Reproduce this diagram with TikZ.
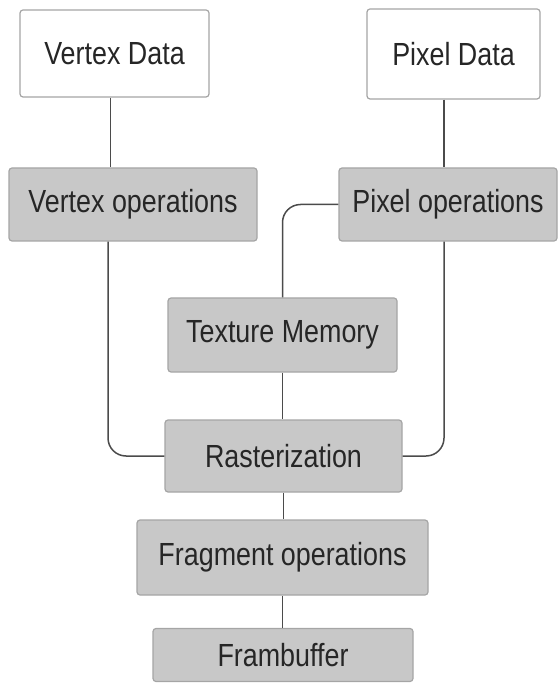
\documentclass[tikz,border=0pt]{standalone}
\usepackage{fontspec}
\setmainfont[FakeStretch=0.84]{Liberation Sans}

\definecolor{boxgray}{RGB}{200,200,200}
\definecolor{rimgray}{RGB}{165,165,165}
\definecolor{linegray}{RGB}{75,75,75}

\begin{document}
\begin{tikzpicture}[x=0.5pt,y=-0.5pt,
    every node/.style={rectangle,rounded corners=1.5pt,draw=rimgray,line width=0.6pt,
      inner sep=0pt,font=\fontsize{16}{19}\selectfont,text=black!85},
    databox/.style={fill=white},
    opbox/.style={fill=boxgray}]

      \useasboundingbox (0,0) rectangle (558,683);

      % Nodes
      \node[databox,minimum width=94.5pt,minimum height=43.5pt] (vd) at (114.5,53.5) {Vertex Data};
      \node[databox,minimum width=86.5pt,minimum height=45pt] (pd) at (453.5,54) {Pixel Data};

      \node[opbox,minimum width=124pt,minimum height=36.5pt] (vop) at (133,204.5) {Vertex operations};
      \node[opbox,minimum width=109pt,minimum height=36.5pt] (pop) at (448,204.5) {Pixel operations};

      \node[opbox,minimum width=114.5pt,minimum height=37pt] (tm) at (282.5,335) {Texture Memory};
      \node[opbox,minimum width=118.5pt,minimum height=36pt] (ras) at (283.5,456) {Rasterization};
      \node[opbox,minimum width=145.5pt,minimum height=37.5pt] (fop) at (282.5,557.5) {Fragment operations};
      \node[opbox,minimum width=130pt,minimum height=26.5pt] (fb) at (283,655) {Frambuffer};

      % Edges
      \begin{scope}[every path/.style={draw=linegray,line width=0.75pt,rounded corners=9pt}]
        \path ([xshift=-2pt]vd.south) -- ([xshift=-2pt]vd.south |- vop.north);
        \path ([xshift=-4.75pt]pd.south) -- ([xshift=-4.75pt]pd.south |- pop.north);

        \path (pop.west) -| (tm.north);
        \path (tm.south) -- (tm.south |- ras.north);

        \path ([xshift=-12.5pt]vop.south) |- (ras.west);
        \path ([xshift=-2pt]pop.south) |- (ras.east);

        \path (ras.south) -- (ras.south |- fop.north);
        \path (fop.south) -- (fop.south |- fb.north);
      \end{scope}

    \end{tikzpicture}
\end{document}
